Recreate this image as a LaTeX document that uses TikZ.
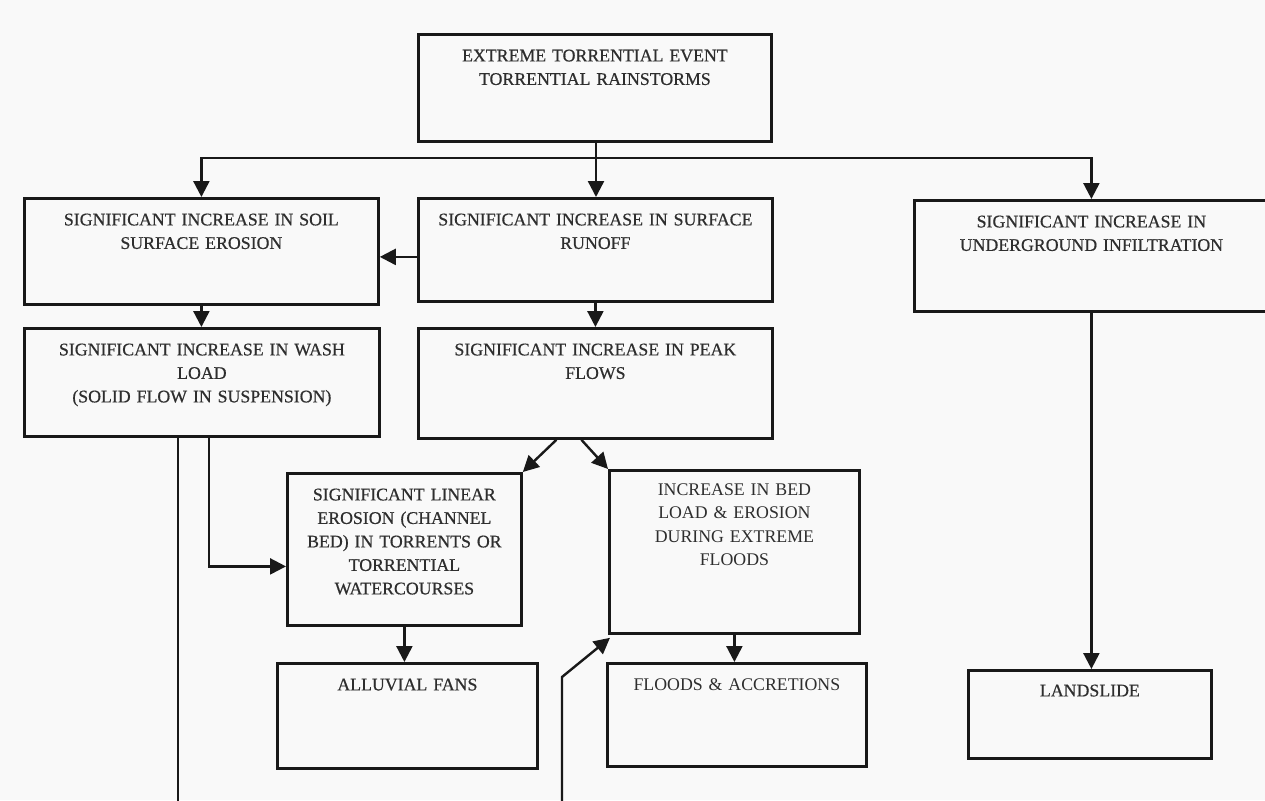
\documentclass[tikz,border=0pt]{standalone}
\usepackage{fontspec}
\setmainfont{Liberation Serif}
\newfontfamily\heavyserif[FakeBold=0.6]{Liberation Serif}
\usetikzlibrary{arrows.meta, calc, positioning}
\definecolor{lineBlack}{gray}{0.1}
\definecolor{textGray}{gray}{0.18}
\definecolor{paperWhite}{gray}{0.975}

\tikzset{
  box/.style={draw=lineBlack, line width=2.8pt, inner sep=0pt, anchor=north west,
    align=center, text=textGray, font=\heavyserif\fontsize{17.8}{23.5}\selectfont, text height=27pt},
  lightbox/.style={box, font=\rmfamily\fontsize{17.8}{23.5}\selectfont},
  link/.style={draw=lineBlack, line width=2.4pt, -{Triangle[length=16pt,width=16pt]}},
  plain/.style={draw=lineBlack, line width=2.4pt}
}

\begin{document}
\begin{tikzpicture}[x=1pt, y=-1pt]
    \fill[paperWhite] (0,0) rectangle (1265,800);
    \useasboundingbox (0,0) rectangle (1265,800);

    % boxes
    \node[box, text width=353pt, text depth=80pt] (event) at (417,33) {EXTREME TORRENTIAL EVENT\\TORRENTIAL RAINSTORMS};
    \node[box, text width=354pt, text depth=79pt] (soil) at (23,197) {SIGNIFICANT INCREASE IN SOIL\\SURFACE EROSION};
    \node[box, text width=354pt, text depth=76pt] (runoff) at (417,197) {SIGNIFICANT INCREASE IN SURFACE\\RUNOFF};
    \node[box, text width=354pt, text depth=84pt] (infilt) at (913,199) {SIGNIFICANT INCREASE IN\\UNDERGROUND INFILTRATION};
    \node[box, text width=355pt, text depth=81pt] (wash) at (23,327) {SIGNIFICANT INCREASE IN WASH\\LOAD\\(SOLID FLOW IN SUSPENSION)};
    \node[box, text width=354pt, text depth=83pt] (peak) at (417,327) {SIGNIFICANT INCREASE IN PEAK\\FLOWS};
    \node[box, text width=234pt, text depth=125pt] (linear) at (286,472) {SIGNIFICANT LINEAR\\EROSION (CHANNEL\\BED) IN TORRENTS OR\\TORRENTIAL\\WATERCOURSES};
    \node[lightbox, text width=250pt, text height=25pt, text depth=138pt] (bed) at (608,469) {INCREASE IN BED\\LOAD \& EROSION\\DURING EXTREME\\FLOODS};
    \node[box, text width=260pt, text depth=78pt] (fans) at (276,662) {ALLUVIAL FANS};
    \node[lightbox, text width=259pt, text depth=76pt] (floods) at (606,662) {FLOODS \& ACCRETIONS};
    \node[box, text width=243pt, text height=26pt, text depth=62pt] (slide) at (967,669) {LANDSLIDE};

    % connectors
    \coordinate (split) at (596,158);
    \coordinate (washOut) at (178,815);
    \coordinate (bedIn) at (562,815);
    \draw[plain] (event.south -| split) -- (split);
    \draw[link] (split) -- (split |- runoff.north);
    \draw[link] (split) -| (soil.north);
    \draw[link] (split) -| (infilt.north);
    \draw[link] ([yshift=-7pt]runoff.west) -- ([yshift=-7pt]runoff.west -| soil.east);
    \draw[link] (soil.south) -- (soil.south |- wash.north);
    \draw[link] (runoff.south) -- (peak.north);
    \draw[link] ([xshift=-39pt]peak.south) -- (linear.north east);
    \draw[link] ([xshift=-14pt]peak.south) -- (bed.north west);
    \draw[link] ([xshift=7pt]wash.south) |- ([yshift=-17pt]linear.west);
    \draw[plain] (washOut |- wash.south) -- (washOut);
    \draw[link] (linear.south) -- (linear.south |- fans.north);
    \draw[link] (bed.south) -- (bed.south |- floods.north);
    \draw[link] (bedIn) -- ++(0,-138) -- ([xshift=2pt,yshift=-3pt]bed.south west);
    \draw[link] (infilt.south) -- (infilt.south |- slide.north);
\end{tikzpicture}
\end{document}
